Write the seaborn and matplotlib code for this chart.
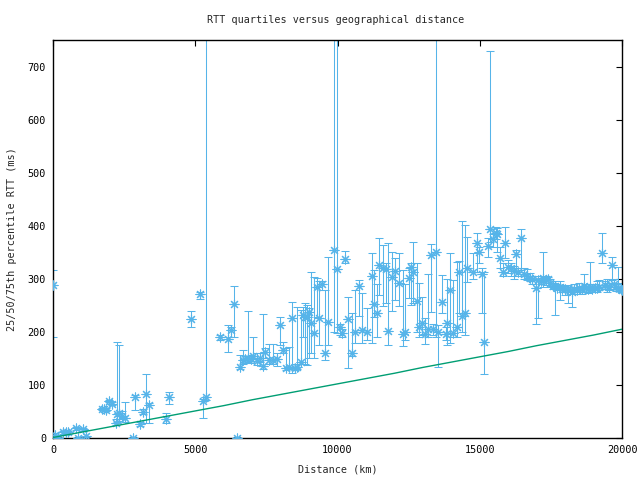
import matplotlib
matplotlib.use("Agg")
import matplotlib.pyplot as plt
import seaborn as sns
import pandas as pd
import numpy as np

# distance (km), 25th, 50th, 75th percentile RTT (ms)
dist = [0, 70, 180, 350, 450, 530, 810, 880, 1050, 1160,
        1720, 1790, 1860, 1970, 2060, 2210, 2250, 2320, 2420, 2530,
        2810, 2880, 3060, 3160, 3270, 3370, 3970, 4080, 4850, 5170,
        5270, 5380, 5870, 6150, 6260, 6360, 6470, 6570, 6680, 6750,
        6850, 6960, 7030, 7170, 7280, 7380, 7450, 7590, 7730, 7870,
        7980, 8080, 8190, 8300, 8400, 8510, 8580, 8720, 8790, 8860,
        8930, 9000, 9070, 9180, 9280, 9350, 9460, 9560, 9670, 9880,
        9980, 10090, 10150, 10260, 10370, 10510, 10610, 10760, 10860, 11040,
        11210, 11280, 11390, 11460, 11600, 11700, 11780, 11920, 12020, 12160,
        12300, 12370, 12510, 12580, 12650, 12790, 12860, 12970, 13080, 13180,
        13290, 13360, 13460, 13530, 13670, 13810, 13850, 13960, 14060, 14200,
        14270, 14380, 14480, 14550, 14760, 14900, 14970, 15080, 15150, 15290,
        15360, 15470, 15570, 15610, 15710, 15820, 15890, 15990, 16100, 16200,
        16270, 16350, 16450, 16550, 16650, 16750, 16850, 16980, 17050, 17150,
        17230, 17320, 17400, 17480, 17560, 17650, 17730, 17820, 17900, 18000,
        18100, 18170, 18240, 18330, 18420, 18500, 18580, 18660, 18750, 18820,
        18880, 18960, 19040, 19120, 19200, 19300, 19390, 19470, 19560, 19650,
        19720, 19800, 19860, 19950, 19995]
q50 = [289, 6, 0, 11, 12, 11, 19, 0, 17, 4,
       55, 54, 53, 70, 64, 28, 45, 47, 42, 38,
       0, 77, 26, 49, 83, 62, 36, 77, 225, 271,
       70, 77, 190, 187, 204, 253, 0, 134, 147, 149,
       150, 149, 155, 145, 151, 136, 162, 147, 147, 149,
       213, 166, 132, 134, 226, 132, 134, 143, 232, 228,
       228, 238, 217, 198, 285, 226, 291, 160, 219, 355,
       319, 209, 198, 338, 224, 160, 200, 287, 204, 200,
       306, 253, 236, 326, 321, 319, 202, 304, 315, 292,
       196, 200, 302, 323, 313, 258, 209, 217, 196, 206,
       345, 206, 351, 200, 257, 196, 217, 279, 198, 209,
       313, 230, 236, 321, 313, 368, 351, 309, 181, 362,
       394, 375, 387, 385, 340, 313, 368, 323, 321, 315,
       347, 313, 377, 309, 305, 302, 300, 283, 298, 296,
       302, 298, 300, 292, 287, 287, 283, 285, 281, 280,
       279, 278, 275, 281, 279, 283, 280, 287, 282, 280,
       285, 281, 283, 283, 285, 349, 288, 287, 284, 326,
       290, 285, 283, 281, 279]
q25 = [190, 3, 0, 8, 9, 8, 15, 0, 13, 2,
       52, 52, 51, 67, 62, 25, 30, 32, 35, 30,
       0, 53, 23, 45, 28, 28, 28, 64, 209, 262,
       38, 72, 185, 162, 191, 191, 0, 130, 140, 142,
       143, 141, 145, 138, 144, 130, 150, 140, 140, 135,
       175, 160, 128, 130, 123, 128, 130, 140, 191, 140,
       138, 150, 160, 150, 228, 175, 279, 147, 175, 200,
       198, 195, 190, 330, 132, 155, 179, 230, 179, 185,
       179, 228, 190, 270, 249, 255, 175, 240, 260, 249,
       174, 185, 264, 250, 255, 200, 191, 195, 177, 190,
       238, 195, 190, 134, 236, 185, 175, 179, 190, 191,
       236, 200, 194, 294, 300, 313, 330, 236, 121, 342,
       370, 360, 375, 351, 320, 305, 340, 310, 305, 300,
       320, 305, 317, 300, 298, 296, 290, 215, 226, 290,
       285, 288, 292, 285, 280, 232, 278, 260, 275, 270,
       255, 272, 247, 275, 272, 275, 272, 280, 276, 274,
       278, 276, 275, 275, 278, 330, 280, 275, 278, 298,
       280, 277, 280, 275, 275]
q75 = [317, 9, 2, 14, 15, 14, 21, 2, 19, 15,
       57, 56, 56, 72, 67, 36, 181, 175, 50, 68,
       2, 81, 30, 55, 121, 66, 47, 87, 240, 276,
       74, 1500, 195, 213, 209, 287, 2, 157, 166, 155,
       240, 157, 191, 160, 160, 234, 170, 177, 177, 160,
       228, 181, 170, 172, 257, 140, 247, 242, 247, 255,
       250, 245, 313, 304, 302, 296, 296, 279, 342, 1500,
       1500, 215, 205, 353, 266, 236, 279, 298, 274, 245,
       349, 317, 290, 377, 364, 330, 368, 351, 340, 349,
       317, 290, 321, 330, 370, 330, 292, 266, 226, 309,
       366, 215, 1500, 213, 308, 210, 300, 349, 298, 332,
       334, 408, 402, 379, 349, 387, 360, 320, 313, 377,
       729, 385, 398, 396, 360, 330, 398, 335, 330, 325,
       355, 320, 394, 320, 318, 310, 305, 298, 305, 302,
       351, 305, 304, 300, 293, 295, 290, 295, 288, 287,
       288, 285, 285, 290, 285, 292, 286, 309, 290, 287,
       332, 290, 290, 296, 298, 387, 296, 300, 292, 342,
       300, 292, 323, 292, 290]

# lower-bound line (km, ms)
line_x = [0, 1000, 2000, 3000, 4000, 5000, 6000, 7000, 8000, 9000, 10000,
          11000, 12000, 13000, 14000, 15000, 16000, 17000, 18000, 19000, 20000]
line_y = [1, 11, 21, 31, 41, 51, 61, 72, 82, 92, 102,
          112, 122, 133, 143, 153, 163, 174, 184, 194, 205]

df = pd.DataFrame({"dist": dist, "q25": q25, "q50": q50, "q75": q75})
lf = pd.DataFrame({"x": line_x, "y": line_y})

sns.set_style("white")
FONT = "DejaVu Sans Mono"
plt.rcParams["font.family"] = [FONT]
fs = 7.3

blue = "#56B4E9"
green = "#009E73"

fig = plt.figure(figsize=(6.4, 4.8), dpi=100)
ax = fig.add_axes([53/640, 1 - 438/480, 569/640, 398/480])

ax.errorbar(df["dist"], df["q50"],
            yerr=[df["q50"] - df["q25"], df["q75"] - df["q50"]],
            fmt="none", ecolor=blue, elinewidth=0.75, capsize=2.6, capthick=0.75,
            zorder=2)
sns.scatterplot(data=df, x="dist", y="q50", ax=ax, marker=(8, 2, 0),
                s=42, color=blue, edgecolor=blue, linewidth=0.8, zorder=3,
                legend=False)
sns.lineplot(data=lf, x="x", y="y", ax=ax, color=green, linewidth=1.0,
             zorder=4, legend=False)

ax.set_xlim(0, 20000)
ax.set_ylim(0, 750)
ax.set_xticks([0, 5000, 10000, 15000, 20000])
ax.set_yticks([0, 100, 200, 300, 400, 500, 600, 700])
ax.tick_params(direction="in", length=4.5, width=0.8, top=True, right=True,
               labelsize=fs, pad=5, colors="black")
for s in ax.spines.values():
    s.set_visible(True)
    s.set_color("black")
    s.set_linewidth(1.0)
ax.set_xlabel("")
ax.set_ylabel("")

fig.text(336/640, 1 - 20/480, "RTT quartiles versus geographical distance",
         ha="center", va="center", fontsize=fs, family=FONT)
fig.text(338/640, 1 - 470/480, "Distance (km)", ha="center", va="center",
         fontsize=fs, family=FONT)
fig.text(12/640, 1 - 239/480, "25/50/75th percentile RTT (ms)", ha="center",
         va="center", rotation=90, fontsize=fs, family=FONT)

fig.savefig("out.png", dpi=100)
